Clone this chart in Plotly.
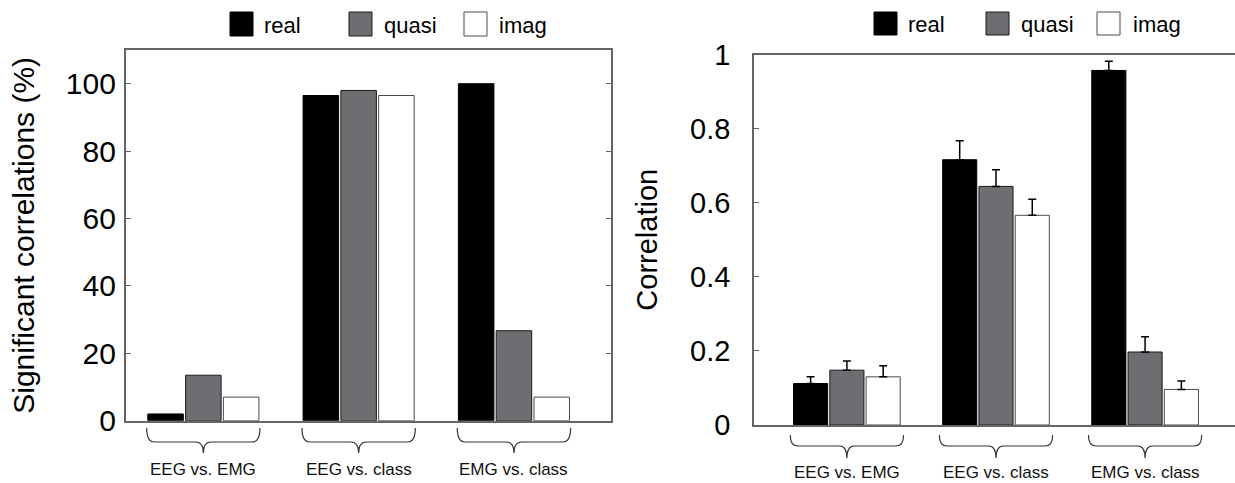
import plotly.graph_objects as go

# ---------------- data ----------------
groups = ["EEG vs. EMG", "EEG vs. class", "EMG vs. class"]
series = ["real", "quasi", "imag"]

sig_real = [2.0, 96.5, 100.0]
sig_quasi = [13.5, 98.0, 26.7]
sig_imag = [7.0, 96.5, 7.0]

corr_real = [0.112, 0.716, 0.957]
corr_quasi = [0.148, 0.644, 0.197]
corr_imag = [0.130, 0.566, 0.096]

err_real = [0.018, 0.051, 0.025]
err_quasi = [0.025, 0.045, 0.041]
err_imag = [0.030, 0.043, 0.023]

left_ticks = [0, 20, 40, 60, 80, 100]
right_ticks = [0, 0.2, 0.4, 0.6, 0.8, 1]

# ---------------- styles ----------------
W, H = 1235, 483
FONT = "Liberation Sans, Arial, sans-serif"
fills = {"real": "#000000", "quasi": "#6d6e72", "imag": "#ffffff"}
outlines = {"real": "#000000", "quasi": "#1a1a1a", "imag": "#4a4a4a"}
AXC = "#666666"

def px_x(p):
    return p / W

def px_y(p):
    return 1 - p / H

xpos = list(range(len(groups)))

fig = go.Figure()

sig_vals = {"real": sig_real, "quasi": sig_quasi, "imag": sig_imag}
corr_vals = {"real": corr_real, "quasi": corr_quasi, "imag": corr_imag}
corr_errs = {"real": err_real, "quasi": err_quasi, "imag": err_imag}

for s in series:
    fig.add_trace(go.Bar(
        x=xpos, y=sig_vals[s], name=s, xaxis="x", yaxis="y",
        marker=dict(color=fills[s], line=dict(color=outlines[s], width=1)),
        showlegend=False,
    ))

for s in series:
    fig.add_trace(go.Bar(
        x=xpos, y=corr_vals[s], name=s, xaxis="x2", yaxis="y2",
        marker=dict(color=fills[s], line=dict(color=outlines[s], width=1)),
        error_y=dict(type="data", symmetric=False, array=corr_errs[s],
                     arrayminus=[0] * len(groups), color="#000000",
                     thickness=1.5, width=4),
        showlegend=False,
    ))

shapes = []
annotations = []

# braces + group labels under each panel
def add_braces(xref, hw, r, y_top, y_line, y_tip, y_label, fsize):
    for i, g in enumerate(groups):
        c = xpos[i]
        xl, xr = c - hw, c + hw
        yt, yl, yp = px_y(y_top), px_y(y_line), px_y(y_tip)
        path = (f"M {xl},{yt} Q {xl},{yl} {xl + r},{yl} L {c - r},{yl} "
                f"Q {c},{yl} {c},{yp} Q {c},{yl} {c + r},{yl} "
                f"L {xr - r},{yl} Q {xr},{yl} {xr},{yt}")
        shapes.append(dict(type="path", path=path, xref=xref, yref="paper",
                           line=dict(color="#333333", width=1.2)))
        annotations.append(dict(text=g, x=c, y=px_y(y_label), xref=xref,
                                yref="paper", showarrow=False,
                                xanchor="center", yanchor="middle",
                                font=dict(family=FONT, size=fsize, color="#111111")))

add_braces("x", 0.365, 0.05, 428, 442, 453, 469, 17)
add_braces("x2", 0.38, 0.05, 435, 446, 458, 472, 17)

# custom legends (large square swatches)
def add_legend(sq_x, txt_x, y0, y1):
    for s, sx, tx in zip(series, sq_x, txt_x):
        shapes.append(dict(type="rect", xref="paper", yref="paper",
                           x0=px_x(sx), x1=px_x(sx + 23), y0=px_y(y1), y1=px_y(y0),
                           fillcolor=fills[s],
                           line=dict(color=outlines[s] if s != "real" else "#000000", width=1)))
        annotations.append(dict(text=s, x=px_x(tx), y=px_y((y0 + y1) / 2 + 1),
                                xref="paper", yref="paper", showarrow=False,
                                xanchor="left", yanchor="middle",
                                font=dict(family=FONT, size=22, color="#000000")))

add_legend([230, 349, 464], [262, 382, 497], 12, 36)
add_legend([874, 986, 1097], [906, 1019, 1131], 12, 35)

axis_common = dict(showline=True, linecolor=AXC, linewidth=1.6, showgrid=False,
                   zeroline=False, automargin=False)

fig.update_layout(
    width=W, height=H, autosize=False,
    margin=dict(l=0, r=0, t=0, b=0, pad=0),
    paper_bgcolor="white", plot_bgcolor="white",
    barmode="group", bargap=0.27, bargroupgap=0.06,
    font=dict(family=FONT, color="#000000"),
    xaxis=dict(domain=[px_x(125.7), px_x(611)], range=[-0.5, 2.625],
               showticklabels=False, ticks="", mirror=True, anchor="y",
               **axis_common),
    yaxis=dict(domain=[px_y(420.7), px_y(50)], range=[0, 110],
               tickvals=left_ticks, ticks="inside", ticklen=5, tickcolor=AXC,
               tickwidth=1.2, mirror="ticks", anchor="x",
               tickfont=dict(family=FONT, size=30, color="#000000"),
               ticklabelstandoff=2,
               title=dict(text="Significant correlations (%)", standoff=22,
                          font=dict(family=FONT, size=30, color="#000000")),
               **axis_common),
    xaxis2=dict(domain=[px_x(754), 1.0], range=[-0.623, 2.603],
                showticklabels=False, ticks="", mirror=True, anchor="y2",
                **axis_common),
    yaxis2=dict(domain=[px_y(425), px_y(54.5)], range=[0, 1],
                tickvals=right_ticks, ticks="inside", ticklen=5, tickcolor=AXC,
                tickwidth=1.2, mirror=False, anchor="x2",
                tickfont=dict(family=FONT, size=29, color="#000000"),
                ticklabelstandoff=16,
                title=dict(text="Correlation", standoff=24,
                           font=dict(family=FONT, size=29, color="#000000")),
                **axis_common),
    shapes=shapes,
    annotations=annotations,
)

post = "document.body.style.margin='0';document.body.style.overflow='hidden';"

fig.write_html("out.html", config={"displayModeBar": False}, post_script=post)
